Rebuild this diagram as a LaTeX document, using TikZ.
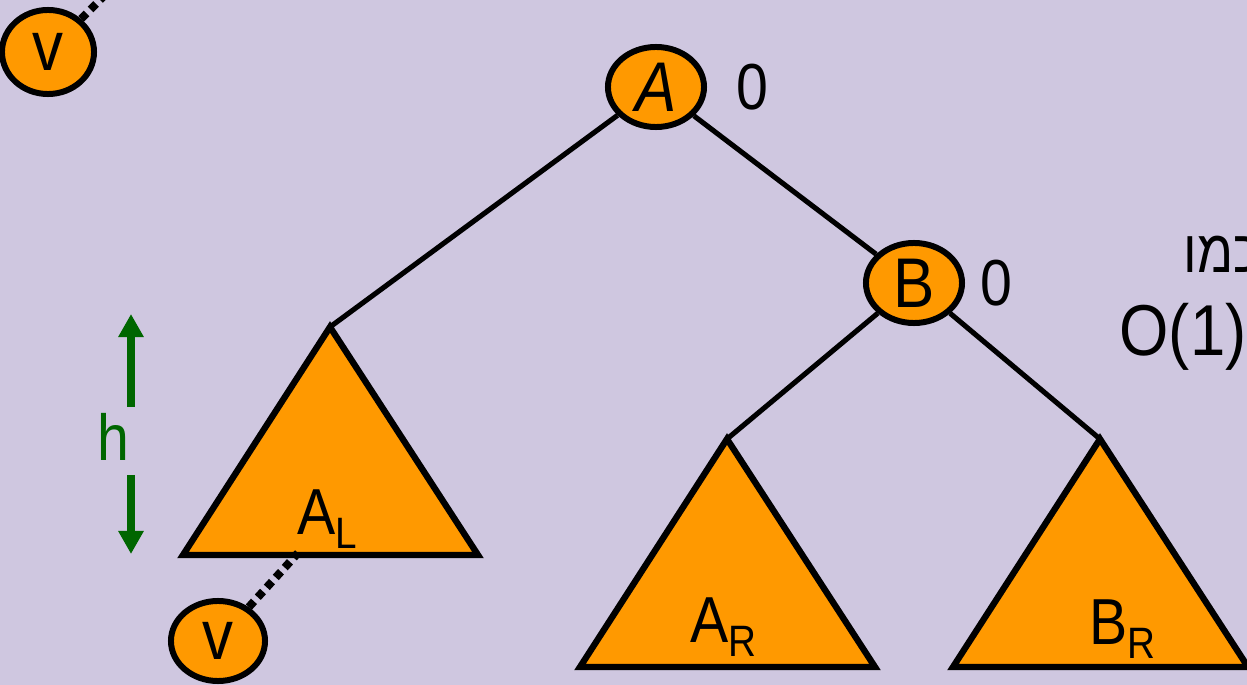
\documentclass[tikz,border=0pt]{standalone}
\usepackage{fontspec}
\setmainfont{Liberation Sans}[FakeStretch=0.88]
\newfontfamily\hebfont[Script=Hebrew, FakeStretch=0.88]{Liberation Sans}
\TeXXeTstate=1
\usetikzlibrary{shapes,arrows.meta,positioning,calc}
\definecolor{slidebg}{RGB}{207,199,224}
\definecolor{treeorange}{RGB}{255,153,0}
\definecolor{hgreen}{RGB}{0,102,0}

\begin{document}
\begin{tikzpicture}[x=0.01cm, y=-0.01cm, line width=1.45pt,
  vert/.style={draw, ellipse, fill=treeorange, line width=1.7pt, minimum width=0.96cm, minimum height=0.80cm, inner sep=0pt, font=\fontsize{20}{21}\selectfont},
  subtree/.style={draw, fill=treeorange, line width=1.8pt, line join=miter},
  bal/.style={inner sep=0pt, font=\fontsize{18.5}{20}\selectfont},
  harrow/.style={draw=hgreen, line width=2pt, -{Triangle[width=0.24cm, length=0.23cm]}},
  dots/.style={line width=2.3pt, dash pattern=on 2.2pt off 1.6pt}]
\useasboundingbox (0,0) rectangle (1247,685);
\fill[slidebg] (0,0) rectangle (1247,685);

% subtrees
\coordinate (alTop) at (330,327);
\coordinate (arTop) at (727,439);
\coordinate (brTop) at (1100,439);
\draw[subtree] (alTop) -- (183,555) -- (478,555) -- cycle;
\draw[subtree] (arTop) -- (580,667) -- (875,667) -- cycle;
\draw[subtree] (brTop) -- (953,667) -- (1248,667) -- cycle;
\node[bal, anchor=base west] (alName) at (295,535) {A\raisebox{-3.8pt}{\fontsize{12.5}{13}\selectfont L}};
\node[bal, anchor=base west] (arName) at (688,643) {A\raisebox{-3.8pt}{\fontsize{12.5}{13}\selectfont R}};
\node[bal, anchor=base west] (brName) at (1087,645) {B\raisebox{-3.8pt}{\fontsize{12.5}{13}\selectfont R}};

% tree nodes
\node[vert] (rootA) at (656,87) {\itshape A};
\node[vert] (nodeB) at (914,283) {B};
\node[bal, right=0.27cm of rootA] (balA) {0};
\node[bal, right=0.13cm of nodeB] (balB) {0};
\draw (rootA) -- (alTop);
\draw (rootA) -- (nodeB);
\draw (nodeB) -- (arTop);
\draw (nodeB) -- (brTop);

% the two v's
\node[vert, minimum width=0.92cm, minimum height=0.84cm] (vTop) at (48,52) {v};
\node[vert, minimum width=0.94cm, minimum height=0.80cm] (vBot) at (218,641) {v};
\coordinate (vTopEnd) at (112,-12);
\coordinate (alFoot) at (298,553);
\draw[dots] (vTop) -- (vTopEnd);
\draw[dots] (vBot) -- (alFoot);

% height of A_L
\node[bal, text=hgreen] (hName) at (113,437) {h};
\coordinate (hUpFrom) at (131,407);
\coordinate (hUpTo) at (131,314);
\coordinate (hDownFrom) at (131,475);
\coordinate (hDownTo) at (131,554);
\draw[harrow] (hUpFrom) -- (hUpTo);
\draw[harrow] (hDownFrom) -- (hDownTo);

% side text
\node[inner sep=0pt, anchor=base west, font=\fontsize{17}{18}\selectfont] (likeText) at (1181,273) {\hebfont\beginR כמו\endR};
\node[inner sep=0pt, anchor=base west, font=\fontsize{20.5}{22}\selectfont] (costText) at (1117,356) {O(1)};
\end{tikzpicture}
\end{document}
